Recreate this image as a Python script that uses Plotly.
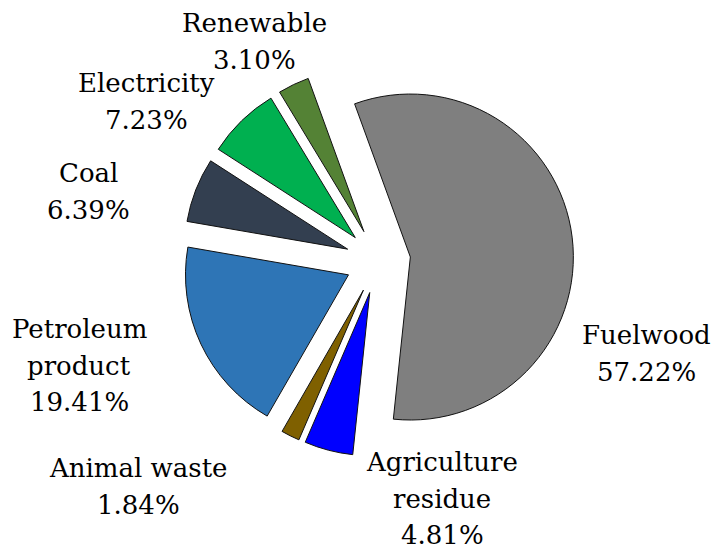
import plotly.graph_objects as go

W, H = 715, 549

# Household energy mix by source (share of total, %)
categories = ["Fuelwood", "Agriculture residue", "Animal waste",
              "Petroleum product", "Coal", "Electricity", "Renewable"]
label_text = ["Fuelwood", "Agriculture<br>residue", "Animal waste",
              "Petroleum<br>product", "Coal", "Electricity", "Renewable"]
shares = [57.22, 4.81, 1.84, 19.41, 6.39, 7.23, 3.10]

colors = ["#7f7f7f", "#0000ff", "#7f6000", "#2e75b6",
          "#333f50", "#00b050", "#548235"]

# Label anchors in pixels: centre x, centre y of the first text line
label_pos = [(646, 335), (442, 462), (138, 468), (79, 329),
             (88, 173), (146, 83), (254, 23)]
LINE_STEP = 36.5
SERIF = "DejaVu Serif"
FONT = dict(family=SERIF, size=26, color="black")

# Pie geometry (pixels): centre, radius and explode fraction
cx, cy, r = 378, 261, 163
pull = 0.2
box = 2 * r * (1 + pull)
dom_x = [(cx - box / 2) / W, (cx + box / 2) / W]
dom_y = [1 - (cy + box / 2) / H, 1 - (cy - box / 2) / H]

fig = go.Figure(go.Pie(
    labels=categories,
    values=shares,
    sort=False,
    direction="clockwise",
    rotation=-20,
    pull=[pull] * len(shares),
    marker=dict(colors=colors, line=dict(color="#111111", width=1)),
    textinfo="none",
    hovertemplate="%{label}: %{value:.2f}%<extra></extra>",
    showlegend=False,
    domain=dict(x=dom_x, y=dom_y),
))

annotations = []
for (x0, y0), txt, v in zip(label_pos, label_text, shares):
    lines = txt.split("<br>") + [f"{v:.2f}%"]
    for k, line in enumerate(lines):
        annotations.append(dict(
            x=x0 / W, y=1 - (y0 + k * LINE_STEP) / H,
            xref="paper", yref="paper",
            xanchor="center", yanchor="middle",
            text=line, showarrow=False, font=FONT,
        ))

fig.update_layout(
    width=W, height=H,
    margin=dict(l=0, r=0, t=0, b=0),
    paper_bgcolor="white",
    plot_bgcolor="white",
    font=dict(family=SERIF),
    annotations=annotations,
)

fig.write_html("out.html")
